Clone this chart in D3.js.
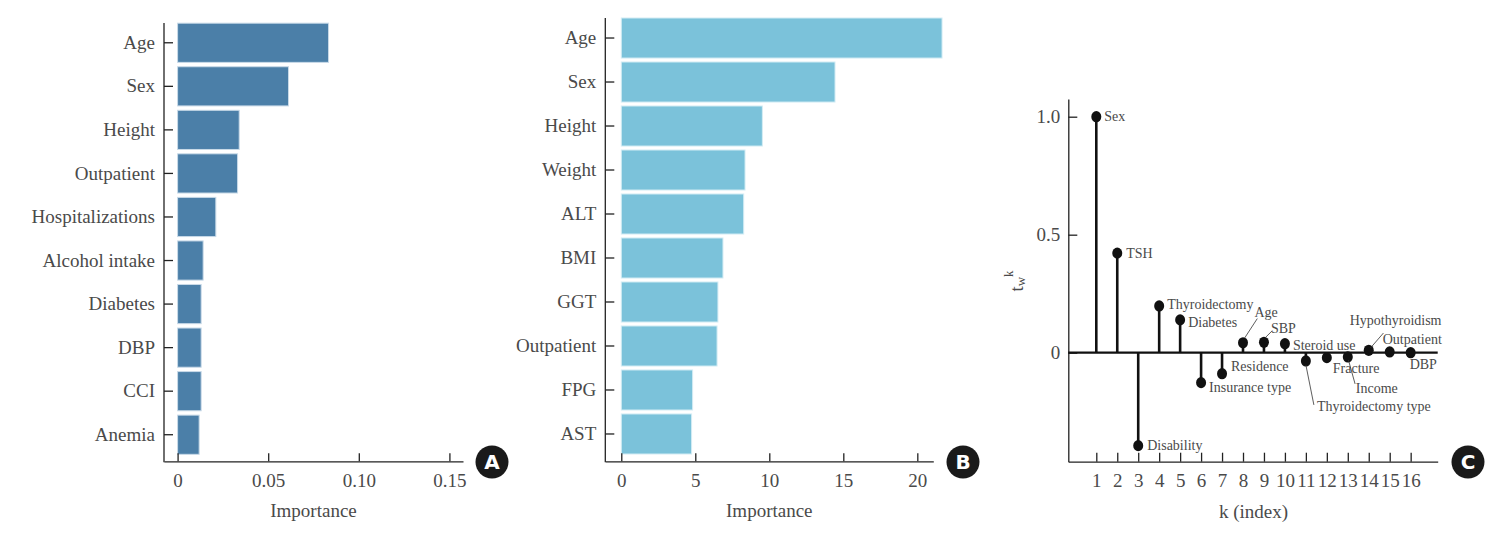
<!DOCTYPE html>
<html>
<head>
<meta charset="utf-8">
<script src="https://cdn.jsdelivr.net/npm/d3@7"></script>
<style>
  body { margin: 0; background: #fff; }
  svg { display: block; }
  .lbl { font-family: "Liberation Serif", "Times New Roman", serif; fill: #4a4a4a; }
</style>
</head>
<body>
<svg id="chart" width="1500" height="541"></svg>
<script>
// panel A: feature importance
const featA = ["Age", "Sex", "Height", "Outpatient", "Hospitalizations", "Alcohol intake", "Diabetes", "DBP", "CCI", "Anemia"];
const impA = [0.0833, 0.0612, 0.034, 0.0331, 0.0211, 0.0141, 0.013, 0.013, 0.013, 0.0119];
const ticksA = [0, 0.05, 0.10, 0.15];
const tickLabA = ["0", "0.05", "0.10", "0.15"];

// panel B: feature importance
const featB = ["Age", "Sex", "Height", "Weight", "ALT", "BMI", "GGT", "Outpatient", "FPG", "AST"];
const impB = [21.67, 14.44, 9.53, 8.36, 8.27, 6.87, 6.53, 6.47, 4.82, 4.75];
const ticksB = [0, 5, 10, 15, 20];

// panel C: t_w^k by index
const kIdx = [1, 2, 3, 4, 5, 6, 7, 8, 9, 10, 11, 12, 13, 14, 15, 16];
const kLab = ["Sex", "TSH", "Disability", "Thyroidectomy", "Diabetes", "Insurance type", "Residence", "Age",
  "SBP", "Steroid use", "Thyroidectomy type", "Fracture", "Income", "Hypothyroidism", "Outpatient", "DBP"];
const kVal = [1.0, 0.422, -0.394, 0.198, 0.139, -0.127, -0.089, 0.042, 0.044, 0.038, -0.035, -0.021, -0.018, 0.010, 0.003, 0.0];
const ticksCy = [0, 0.5, 1.0];
const tickLabCy = ["0", "0.5", "1.0"];

// label placement for panel C (offset from dot, optional leader line)
const labPos = [
  [8, 4], [9, 5], [9, 4], [8, 3], [8, 7], [8, 9], [9, -3],
  [11.5, -26, [1.6, -4.7, 14.3, -24.2]],
  [7, -9, [2, -5.3, 8, -11.3]],
  [8, 6],
  [11, 50, [0, 4, 8, 44]],
  [6, 15],
  [8, 36, [0.6, 3, 7.3, 27]],
  [-19, -25, [1.7, -2.3, 14.7, -17.3]],
  [-7, -8],
  [-1, 16]
];

const svg = d3.select("#chart");
const axisY = 461.3;

function barPanel(opt) {
  const g = svg.append("g");
  const x = d3.scaleLinear().domain(opt.domain).range(opt.xRange);
  const y = d3.scaleBand().domain(opt.feats).range(opt.yRange).paddingInner(opt.padIn).paddingOuter(0.05);

  g.selectAll("rect.bar")
    .data(opt.vals)
    .enter()
    .append("rect")
    .attr("class", "bar")
    .attr("x", x(0))
    .attr("y", (d, i) => y(opt.feats[i]))
    .attr("width", (d) => x(d) - x(0))
    .attr("height", y.bandwidth())
    .attr("fill", opt.color)
    .attr("stroke", opt.edge)
    .attr("stroke-width", 1);

  // x axis, ticks inside
  const xa = g.append("g")
    .attr("transform", "translate(0," + axisY + ")")
    .call(d3.axisBottom(x).tickValues(opt.ticks).tickFormat((d, i) => opt.tickLab[i])
      .tickSizeInner(-8).tickSizeOuter(0).tickPadding(12));
  xa.select(".domain").attr("stroke", "#222").attr("stroke-width", 1.3);
  xa.selectAll(".tick line").attr("stroke", "#222").attr("stroke-width", 1.3);
  xa.selectAll("text").attr("class", "lbl").attr("font-size", 19);

  // y axis
  const ya = g.append("g")
    .attr("transform", "translate(" + opt.xRange[0] + ",0)")
    .call(d3.axisLeft(y).tickSizeInner(-9).tickSizeOuter(0).tickPadding(9));
  ya.select(".domain").remove();
  ya.selectAll(".tick line").attr("stroke", "#222").attr("stroke-width", 1.3);
  ya.selectAll("text").attr("class", "lbl").attr("font-size", 19);
  g.append("line")
    .attr("x1", opt.xRange[0]).attr("x2", opt.xRange[0])
    .attr("y1", opt.axisTop).attr("y2", axisY + 1)
    .attr("stroke", "#222").attr("stroke-width", 1.3);

  g.append("text")
    .attr("class", "lbl")
    .attr("x", (x(opt.ticks[0]) + x(opt.ticks[opt.ticks.length - 1])) / 2)
    .attr("y", 517)
    .attr("text-anchor", "middle")
    .attr("font-size", 19)
    .text("Importance");
}

barPanel({
  feats: featA, vals: impA, ticks: ticksA, tickLab: tickLabA,
  domain: [-0.0075, 0.1575], xRange: [164, 463], yRange: [21, 456.5], padIn: 0.1,
  color: "#4b7fa8", edge: "#c9dae8", axisTop: 23
});

barPanel({
  feats: featB, vals: impB, ticks: ticksB, tickLab: ticksB.map(String),
  domain: [-1.08, 21.08], xRange: [605.3, 933.3], yRange: [15.8, 456.2], padIn: 0.09,
  color: "#7bc2da", edge: "#d3ecf4", axisTop: 18
});

// panel C: stem plot
const gc = svg.append("g");
const xc = d3.scaleLinear().domain([-0.336, 17.29]).range([1068.3, 1437.7]);
const yc = d3.scaleLinear().domain([-0.462, 1.075]).range([461.7, 99]);

const xca = gc.append("g")
  .attr("transform", "translate(0," + yc(-0.462) + ")")
  .call(d3.axisBottom(xc).tickValues(kIdx).tickFormat(d3.format("d"))
    .tickSizeInner(-9).tickSizeOuter(0).tickPadding(12));
xca.select(".domain").attr("stroke", "#222").attr("stroke-width", 1.3);
xca.selectAll(".tick line").attr("stroke", "#222").attr("stroke-width", 1.3);
xca.selectAll("text").attr("class", "lbl").attr("font-size", 19);

const yca = gc.append("g")
  .attr("transform", "translate(" + xc(-0.336) + ",0)")
  .call(d3.axisLeft(yc).tickValues(ticksCy).tickFormat((d, i) => tickLabCy[i])
    .tickSizeInner(-9).tickSizeOuter(0).tickPadding(8));
yca.select(".domain").attr("stroke", "#222").attr("stroke-width", 1.3);
yca.selectAll(".tick line").attr("stroke", "#222").attr("stroke-width", 1.3);
yca.selectAll("text").attr("class", "lbl").attr("font-size", 19);

// zero line
gc.append("line")
  .attr("x1", xc(-0.336)).attr("x2", xc(17.29))
  .attr("y1", yc(0)).attr("y2", yc(0))
  .attr("stroke", "#111").attr("stroke-width", 2.2);

gc.selectAll("line.stem")
  .data(kVal)
  .enter()
  .append("line")
  .attr("class", "stem")
  .attr("x1", (d, i) => xc(kIdx[i])).attr("x2", (d, i) => xc(kIdx[i]))
  .attr("y1", yc(0)).attr("y2", (d) => yc(d))
  .attr("stroke", "#111").attr("stroke-width", 2.6);

gc.selectAll("ellipse.dot")
  .data(kVal)
  .enter()
  .append("ellipse")
  .attr("class", "dot")
  .attr("cx", (d, i) => xc(kIdx[i]))
  .attr("cy", (d) => yc(d))
  .attr("rx", 5).attr("ry", 5.6)
  .attr("fill", "#111");

kVal.forEach((v, i) => {
  const cx = xc(kIdx[i]), cy = yc(v), p = labPos[i];
  gc.append("text")
    .attr("class", "lbl")
    .attr("x", cx + p[0]).attr("y", cy + p[1])
    .attr("font-size", 14)
    .text(kLab[i]);
  if (p[2]) {
    gc.append("line")
      .attr("x1", cx + p[2][0]).attr("y1", cy + p[2][1])
      .attr("x2", cx + p[2][2]).attr("y2", cy + p[2][3])
      .attr("stroke", "#333").attr("stroke-width", 0.8);
  }
});

gc.append("text")
  .attr("class", "lbl")
  .attr("x", (xc(1) + xc(16)) / 2)
  .attr("y", 518)
  .attr("text-anchor", "middle")
  .attr("font-size", 19)
  .text("k (index)");

const yl = gc.append("text")
  .attr("class", "lbl")
  .attr("transform", "translate(1023,281) rotate(-90)")
  .attr("text-anchor", "middle")
  .attr("font-size", 19);
yl.append("tspan").text("t");
yl.append("tspan").attr("font-size", 13).attr("dy", 2).text("w");
yl.append("tspan").attr("font-size", 13).attr("dy", -12).text("k");

// panel badges
[["A", 492], ["B", 963], ["C", 1468]].forEach(([t, cx]) => {
  svg.append("circle").attr("cx", cx).attr("cy", 462).attr("r", 16.5).attr("fill", "#1a1a1a");
  svg.append("text")
    .attr("x", cx).attr("y", 462)
    .attr("dy", "0.36em")
    .attr("text-anchor", "middle")
    .attr("font-family", "'DejaVu Sans', sans-serif")
    .attr("font-weight", "bold")
    .attr("font-size", 20)
    .attr("fill", "#fff")
    .text(t);
});
</script>
</body>
</html>
